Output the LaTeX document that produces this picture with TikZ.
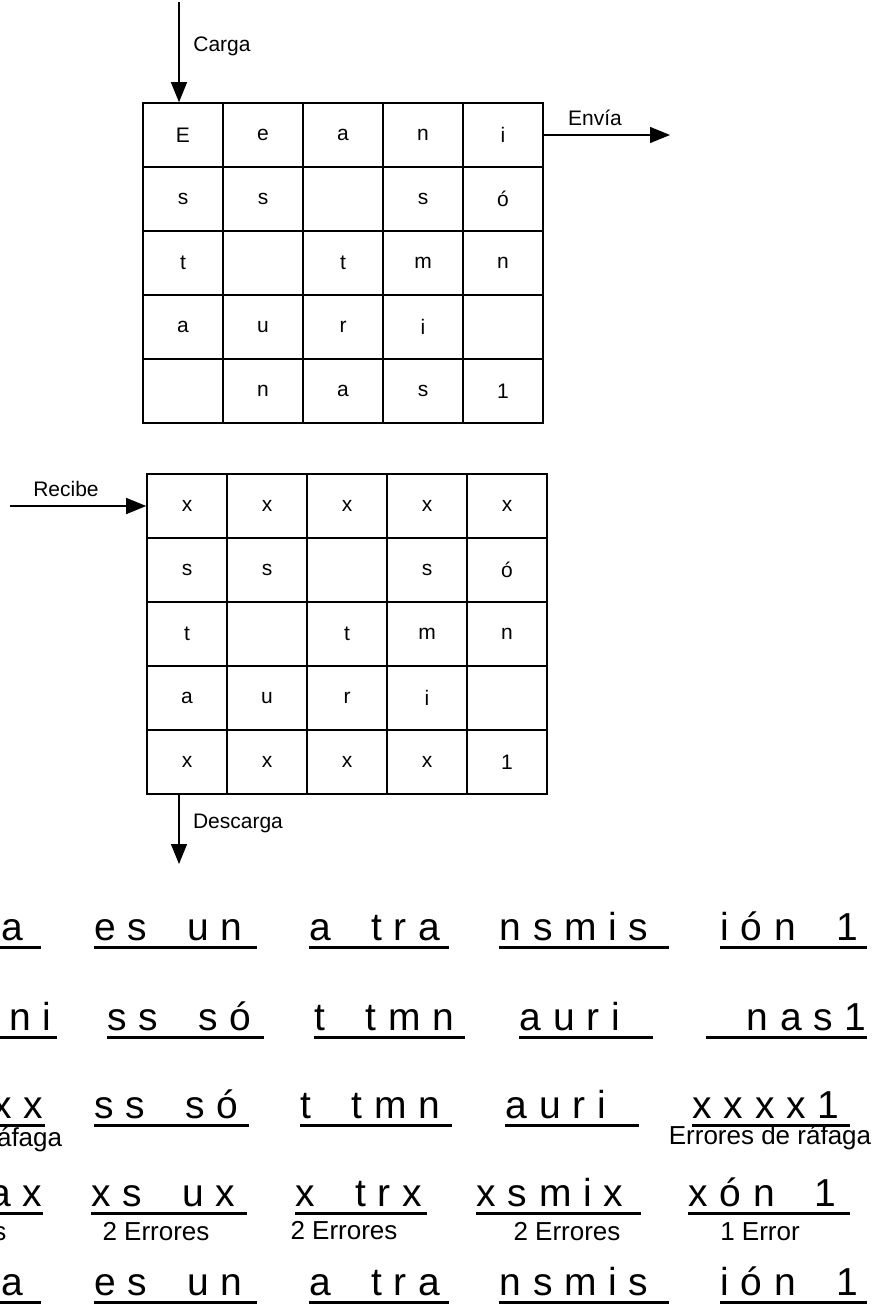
\documentclass[tikz,border=0pt]{standalone}
\usepackage{fontspec}
\setmainfont{Liberation Sans}
\newfontfamily\spaced[LetterSpace=30]{Liberation Sans}
\usetikzlibrary{arrows.meta}
\def\cellfont{\fontsize{21}{25}\selectfont}
\def\wordfont{\spaced\fontsize{39}{47}\selectfont}
\def\notefont{\fontsize{26}{30}\selectfont}
\def\gap{\hspace{40pt}}

\begin{document}
\begin{tikzpicture}[>={Triangle[width=16pt,length=20pt]}, line width=1.3pt,
  cell/.style={draw, line width=1.6pt, minimum width=80pt, minimum height=64pt, inner sep=0pt, font=\cellfont},
  tag/.style={inner sep=0pt, font=\cellfont},
  word/.style={anchor=base west, inner sep=0pt, text width=#1, align=left, font=\wordfont},
  note/.style={inner sep=0pt, font=\notefont},
  uline/.style={line width=3pt}]
\useasboundingbox (0pt, 0pt) rectangle (873pt, -1304pt);
\clip (0pt, 0pt) rectangle (873pt, -1304pt);
% matrix that is loaded and sent
\draw (183.0pt, -135.0pt)node[cell](t11){E};
\draw (263.0pt, -135.0pt)node[cell](t12){e};
\draw (343.0pt, -135.0pt)node[cell](t13){a};
\draw (423.0pt, -135.0pt)node[cell](t14){n};
\draw (503.0pt, -135.0pt)node[cell](t15){i};
\draw (183.0pt, -199.0pt)node[cell](t21){s};
\draw (263.0pt, -199.0pt)node[cell](t22){s};
\draw (343.0pt, -199.0pt)node[cell](t23){};
\draw (423.0pt, -199.0pt)node[cell](t24){s};
\draw (503.0pt, -199.0pt)node[cell](t25){ó};
\draw (183.0pt, -263.0pt)node[cell](t31){t};
\draw (263.0pt, -263.0pt)node[cell](t32){};
\draw (343.0pt, -263.0pt)node[cell](t33){t};
\draw (423.0pt, -263.0pt)node[cell](t34){m};
\draw (503.0pt, -263.0pt)node[cell](t35){n};
\draw (183.0pt, -327.0pt)node[cell](t41){a};
\draw (263.0pt, -327.0pt)node[cell](t42){u};
\draw (343.0pt, -327.0pt)node[cell](t43){r};
\draw (423.0pt, -327.0pt)node[cell](t44){i};
\draw (503.0pt, -327.0pt)node[cell](t45){};
\draw (183.0pt, -391.0pt)node[cell](t51){};
\draw (263.0pt, -391.0pt)node[cell](t52){n};
\draw (343.0pt, -391.0pt)node[cell](t53){a};
\draw (423.0pt, -391.0pt)node[cell](t54){s};
\draw (503.0pt, -391.0pt)node[cell](t55){1};
% matrix that is received
\draw (187.0pt, -506.0pt)node[cell](r11){x};
\draw (267.0pt, -506.0pt)node[cell](r12){x};
\draw (347.0pt, -506.0pt)node[cell](r13){x};
\draw (427.0pt, -506.0pt)node[cell](r14){x};
\draw (507.0pt, -506.0pt)node[cell](r15){x};
\draw (187.0pt, -570.0pt)node[cell](r21){s};
\draw (267.0pt, -570.0pt)node[cell](r22){s};
\draw (347.0pt, -570.0pt)node[cell](r23){};
\draw (427.0pt, -570.0pt)node[cell](r24){s};
\draw (507.0pt, -570.0pt)node[cell](r25){ó};
\draw (187.0pt, -634.0pt)node[cell](r31){t};
\draw (267.0pt, -634.0pt)node[cell](r32){};
\draw (347.0pt, -634.0pt)node[cell](r33){t};
\draw (427.0pt, -634.0pt)node[cell](r34){m};
\draw (507.0pt, -634.0pt)node[cell](r35){n};
\draw (187.0pt, -698.0pt)node[cell](r41){a};
\draw (267.0pt, -698.0pt)node[cell](r42){u};
\draw (347.0pt, -698.0pt)node[cell](r43){r};
\draw (427.0pt, -698.0pt)node[cell](r44){i};
\draw (507.0pt, -698.0pt)node[cell](r45){};
\draw (187.0pt, -762.0pt)node[cell](r51){x};
\draw (267.0pt, -762.0pt)node[cell](r52){x};
\draw (347.0pt, -762.0pt)node[cell](r53){x};
\draw (427.0pt, -762.0pt)node[cell](r54){x};
\draw (507.0pt, -762.0pt)node[cell](r55){1};
% in and out arrows
\coordinate (load) at (179pt, -2pt);
\coordinate (send) at (670pt, -135pt);
\coordinate (recv) at (10pt, -506pt);
\coordinate (unload) at (179pt, -864pt);
\draw (222.0pt, -46.0pt)node[tag](carga){Carga};
\draw (595.0pt, -118.0pt)node[tag](envia){Envía};
\draw (66.0pt, -489.0pt)node[tag](recibe){Recibe};
\draw (238.0pt, -823.0pt)node[tag](descarga){Descarga};
\draw[->] (load) -- (load |- t11.north);
\draw[->] (t15.east) -- (send);
\draw[->] (recv) -- (r11.west);
\draw[->] (unload |- r51.south) -- (unload);
% message read by columns, by rows, received, with errors, corrected
\draw (-91.0pt, -940.0pt)node[word=131pt](w11){Esta};
\draw (94.0pt, -940.0pt)node[word=162pt](w12){es\gap un};
\draw (309.0pt, -940.0pt)node[word=139pt](w13){a\gap tra};
\draw (499.0pt, -940.0pt)node[word=169pt](w14){nsmis};
\draw (720.0pt, -940.0pt)node[word=146pt](w15){ión\gap 1};
\draw (-96.0pt, -1030.0pt)node[word=152pt](w21){Eeani};
\draw (107.0pt, -1030.0pt)node[word=156pt](w22){ss\gap só};
\draw (314.0pt, -1030.0pt)node[word=150pt](w23){t\gap tmn};
\draw (519.0pt, -1030.0pt)node[word=133pt](w24){auri};
\draw (706.0pt, -1030.0pt)node[word=160pt, align=right](w25){nas1};
\draw (-102.0pt, -1118.0pt)node[word=146pt](w31){xxxxx};
\draw (94.0pt, -1118.0pt)node[word=154pt](w32){ss\gap só};
\draw (300.0pt, -1118.0pt)node[word=151pt](w33){t\gap tmn};
\draw (505.0pt, -1118.0pt)node[word=133pt](w34){auri};
\draw (692.0pt, -1118.0pt)node[word=157pt](w35){xxxx1};
\draw (-96.0pt, -1206.0pt)node[word=138pt](w41){xstax};
\draw (91.0pt, -1206.0pt)node[word=155pt](w42){xs\gap ux};
\draw (295.0pt, -1206.0pt)node[word=131pt](w43){x\gap trx};
\draw (476.0pt, -1206.0pt)node[word=164pt](w44){xsmix};
\draw (688.0pt, -1206.0pt)node[word=161pt](w45){xón\gap 1};
\draw (-91.0pt, -1295.0pt)node[word=131pt](w51){Esta};
\draw (94.0pt, -1295.0pt)node[word=162pt](w52){es\gap un};
\draw (309.0pt, -1295.0pt)node[word=139pt](w53){a\gap tra};
\draw (499.0pt, -1295.0pt)node[word=169pt](w54){nsmis};
\draw (720.0pt, -1295.0pt)node[word=146pt](w55){ión\gap 1};
\foreach \i in {1,...,5}
  \foreach \j in {1,...,5}
    \draw[uline] ([yshift=-7pt]w\i\j.base west) -- ([yshift=-7pt]w\i\j.base east);
% error notes
\draw (-39.0pt, -1140.0pt)node[note](n31){Errores de ráfaga};
\draw (770.0pt, -1138.0pt)node[note](n35){Errores de ráfaga};
\draw (-47.0pt, -1232.0pt)node[note](n41){2 Errores};
\draw (156.0pt, -1232.0pt)node[note](n42){2 Errores};
\draw (344.0pt, -1231.0pt)node[note](n43){2 Errores};
\draw (567.0pt, -1232.0pt)node[note](n44){2 Errores};
\draw (760.0pt, -1232.0pt)node[note](n45){1 Error};
\end{tikzpicture}
\end{document}
